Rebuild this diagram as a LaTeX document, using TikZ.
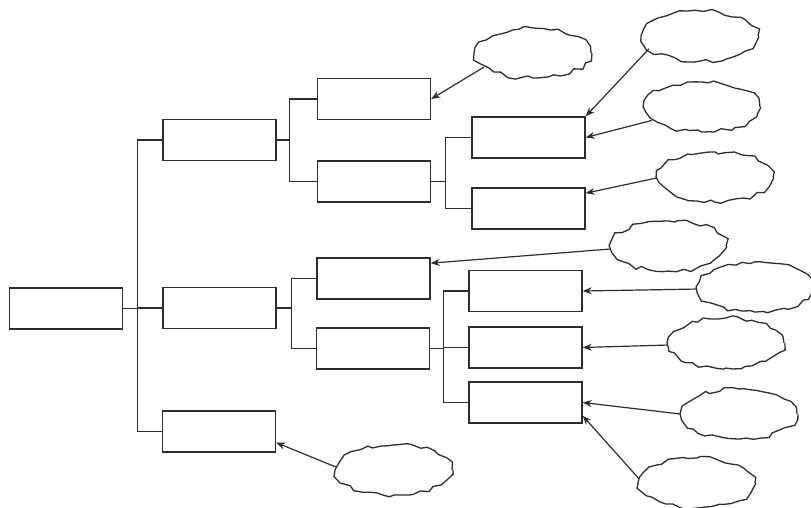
\documentclass[tikz,border=0pt]{standalone}
\usepackage{tikz}
\usetikzlibrary{arrows.meta,shapes.geometric,decorations.pathmorphing}
\definecolor{inkGray}{RGB}{45,45,45}

\begin{document}
\begin{tikzpicture}[x=1pt,y=-1pt,
    box/.style={draw=inkGray, line width=1.4pt, minimum width=113pt,
      minimum height=41pt, inner sep=0pt},
    puff/.style={draw=inkGray, line width=1.3pt, ellipse, inner sep=0pt,
      minimum width=116pt, minimum height=50pt, decorate,
      decoration={random steps, segment length=7pt, amplitude=2.2pt}},
    link/.style={draw=inkGray, line width=1.1pt},
    pointer/.style={draw=inkGray, line width=1.2pt,
      -{Stealth[length=9pt,width=7pt]}}]
  \useasboundingbox (0,0) rectangle (811,507);
  \pgfmathsetseed{7}
  % boxes of the tree
  \node[box] (root) at (66,308.5) {};
  \node[box] (a) at (219.5,140) {};
  \node[box] (b) at (219.5,308) {};
  \node[box] (c) at (219,431.5) {};
  \node[box] (l2a) at (374,99) {};
  \node[box] (l2b) at (374,181.5) {};
  \node[box] (l2c) at (373.5,278.5) {};
  \node[box] (l2d) at (373,348.5) {};
  \node[box] (l3a) at (528.5,137.5) {};
  \node[box] (l3b) at (528.5,208.5) {};
  \node[box] (l3c) at (525.5,291) {};
  \node[box] (l3d) at (525.5,347.5) {};
  \node[box] (l3e) at (525.5,402.5) {};
  % brackets
  \draw[link] (root.east) -- ++(14,0) coordinate (trunk);
  \foreach \k in {a,b,c}
    \draw[link] (trunk) |- (\k.west);
  \draw[link] (a.east) -- ++(13,0) coordinate (aFork);
  \foreach \k in {l2a,l2b}
    \draw[link] (aFork) |- (\k.west);
  \draw[link] (b.east) -- ++(15,0) coordinate (bFork);
  \foreach \k in {l2c,l2d}
    \draw[link] (bFork) |- (\k.west);
  \draw[link] (l2b.east) -- ++(14,0) coordinate (l2bFork);
  \foreach \k in {l3a,l3b}
    \draw[link] (l2bFork) |- (\k.west);
  \draw[link] (l2d.east) -- ++(13,0) coordinate (l2dFork);
  \foreach \k in {l3c,l3d,l3e}
    \draw[link] (l2dFork) |- (\k.west);
  % clouds
  \foreach \n/\x/\y in {c1/533/53, c2/700/36, c3/702/107, c4/715/177,
      c5/668/246, c6/755/287, c7/726/343, c8/739/414, c9/697/483,
      c10/394/470}
    \node[puff] (\n) at (\x,\y) {};
  % arrows from clouds to boxes
  \foreach \s/\t in {c1.196/l2a.east, c2.194/l3a.north east, c3.195/l3a.east,
      c4.181/l3b.15, c5.183/l2c.15, c6.182/l3c.east, c7.182/l3d.east,
      c8.180/l3e.east, c9.176/l3e.-13, c10.177/c.-11}
    \draw[pointer] (\s) -- (\t);
\end{tikzpicture}
\end{document}
